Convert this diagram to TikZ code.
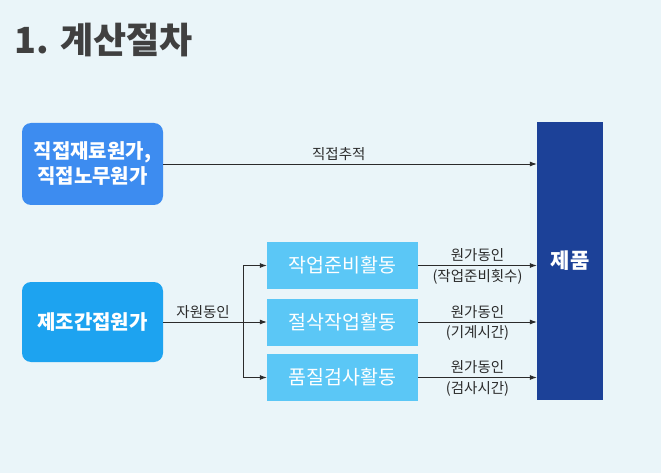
\documentclass[tikz,border=0pt]{standalone}
\usepackage{fontspec}
\setmainfont{Noto Sans CJK KR}
\usetikzlibrary{arrows.meta}

\definecolor{bgcol}{HTML}{EAF5F9}
\definecolor{directblue}{HTML}{3D8CF0}
\definecolor{overblue}{HTML}{1DA3F0}
\definecolor{actblue}{HTML}{5BC7F6}
\definecolor{prodblue}{HTML}{1C4198}
\definecolor{inkgray}{HTML}{2B2B2B}

\begin{document}
\begin{tikzpicture}[x=1pt,y=-1pt]

      \useasboundingbox (0,0) rectangle (661,473);
      \fill[bgcol] (0,0) rectangle (661,473);

      \node[anchor=west, text=inkgray!90, font=\fontsize{36}{40}\selectfont\bfseries] (title) at (11,40) {1. 계산절차};

      \begin{scope}[every node/.style={text=white, font=\fontsize{20}{25}\selectfont\bfseries, align=center}]
        \node[fill=directblue, rounded corners=9pt, minimum width=141pt, minimum height=82pt] (direct)   at (92.5,164) {직접재료원가,\\직접노무원가};
        \node[fill=overblue,   rounded corners=9pt, minimum width=141pt, minimum height=80pt] (overhead) at (92.5,322) {제조간접원가};
        \node[fill=prodblue, minimum width=66pt, minimum height=278pt, font=\fontsize{21}{25}\selectfont\bfseries] (product) at (570,261) {제품};
      \end{scope}

      \begin{scope}[every node/.style={fill=actblue, text=white, minimum width=151pt, minimum height=47pt, font=\fontsize{19.5}{23}\selectfont}]
        \node (setup)   at (342.5,265.5) {작업준비활동};
        \node (cutting) at (342.5,322)   {절삭작업활동};
        \node (inspect) at (342.5,377.5) {품질검사활동};
      \end{scope}

      \coordinate (branch) at (243,322);

      \begin{scope}[arr/.style={draw=inkgray, line width=0.8pt, -{Latex[length=7pt,width=5pt]}},
                    every node/.style={text=inkgray, font=\fontsize{14.5}{17}\selectfont}]
        \draw[arr] (direct.east) -- node[above, pos=0.47] {직접추적} (product.west |- direct.east);
        \draw[arr, -] (overhead.east) -- node[above] {자원동인} (branch);
        \draw[arr] (branch) -- (cutting.west);
        \draw[arr] (branch) |- (setup.west);
        \draw[arr] (branch) |- (inspect.west);
        \draw[arr] (setup.east)   -- node[above] {원가동인} node[below] {(작업준비횟수)} (product.west |- setup.east);
        \draw[arr] (cutting.east) -- node[above] {원가동인} node[below] {(기계시간)} (product.west |- cutting.east);
        \draw[arr] (inspect.east) -- node[above] {원가동인} node[below] {(검사시간)} (product.west |- inspect.east);
      \end{scope}

    \end{tikzpicture}
\end{document}
